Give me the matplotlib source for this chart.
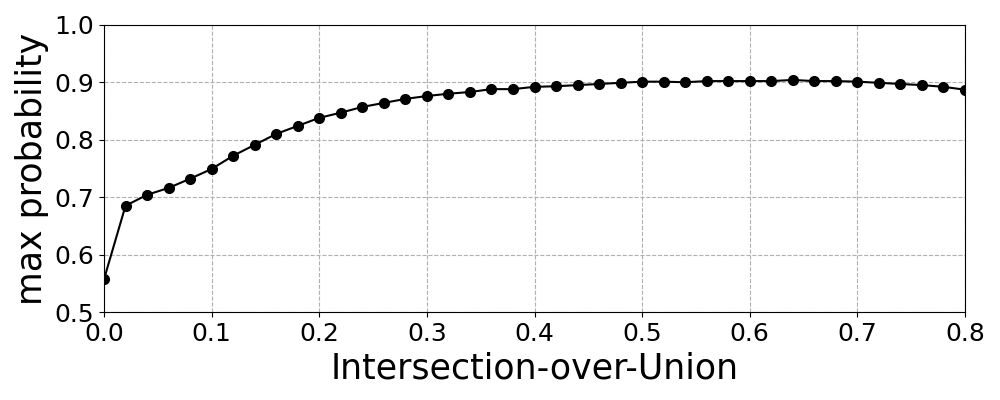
import numpy as np
import matplotlib
matplotlib.use("Agg")
import matplotlib.pyplot as plt

iou = [0.00, 0.02, 0.04, 0.06, 0.08, 0.10, 0.12, 0.14, 0.16, 0.18,
       0.20, 0.22, 0.24, 0.26, 0.28, 0.30, 0.32, 0.34, 0.36, 0.38,
       0.40, 0.42, 0.44, 0.46, 0.48, 0.50, 0.52, 0.54, 0.56, 0.58,
       0.60, 0.62, 0.64, 0.66, 0.68, 0.70, 0.72, 0.74, 0.76, 0.78, 0.80]
max_prob = [0.557, 0.685, 0.704, 0.716, 0.732, 0.749, 0.772, 0.791, 0.810, 0.824,
            0.838, 0.847, 0.857, 0.864, 0.871, 0.876, 0.880, 0.883, 0.888, 0.888,
            0.892, 0.893, 0.895, 0.897, 0.899, 0.901, 0.901, 0.900, 0.902, 0.902,
            0.902, 0.902, 0.904, 0.902, 0.902, 0.901, 0.899, 0.897, 0.895, 0.892,
            0.887]

fig = plt.figure(figsize=(10, 4), dpi=100)
ax = fig.add_axes([0.104, 0.22, 0.861, 0.718])
ax.plot(iou, max_prob, 'k-o', markersize=7, linewidth=1.5)
ax.set_xlim(0, 0.8)
ax.set_ylim(0.5, 1.0)
ax.set_xticks(np.arange(0, 0.81, 0.1))
ax.set_yticks(np.arange(0.5, 1.01, 0.1))
ax.tick_params(labelsize=18)
ax.grid(True, linestyle='--', color='#b0b0b0')
ax.set_xlabel('Intersection-over-Union', fontsize=25)
ax.set_ylabel('max probability', fontsize=25)
fig.savefig('out.png', dpi=100)
